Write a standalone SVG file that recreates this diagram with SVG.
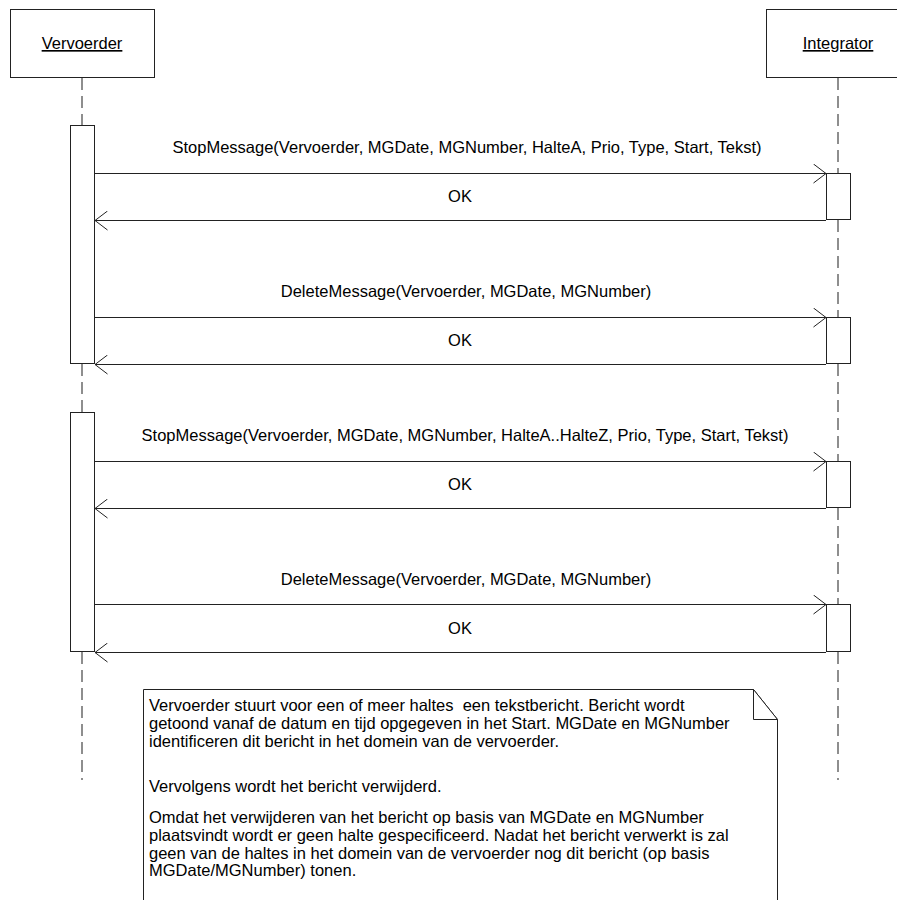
<svg xmlns="http://www.w3.org/2000/svg" width="897" height="900" viewBox="0 0 897 900">
<style>
text{font-family:"Liberation Sans",Arial,sans-serif;font-size:16.5px;fill:#000}
.c{text-anchor:middle}
.box{fill:#fff;stroke:#222;stroke-width:1}
.life{stroke:#444;stroke-width:1.2;stroke-dasharray:12,6;fill:none}
.msg{stroke:#222;stroke-width:1;fill:none}
.head{stroke:#222;stroke-width:1;fill:none}
</style>
<defs>
<marker id="open" viewBox="0 0 14 20" refX="13" refY="10" markerWidth="14" markerHeight="20" markerUnits="userSpaceOnUse" orient="auto">
<path d="M0.5,0.5 L13,10 L0.5,19.5" fill="none" stroke="#222" stroke-width="1"/>
</marker>
</defs>
<rect width="897" height="900" fill="#fff"/>
<g id="lifelines">
<line class="life" x1="82" y1="78" x2="82" y2="125"/>
<line class="life" x1="82" y1="364" x2="82" y2="412"/>
<line class="life" x1="82" y1="652" x2="82" y2="780"/>
<line class="life" x1="838" y1="78" x2="838" y2="173"/>
<line class="life" x1="838" y1="220" x2="838" y2="317"/>
<line class="life" x1="838" y1="364" x2="838" y2="461"/>
<line class="life" x1="838" y1="508" x2="838" y2="604"/>
<line class="life" x1="838" y1="652" x2="838" y2="780"/>
</g>
<g id="vervoerder">
<rect class="box" x="10.5" y="9.5" width="144" height="68"/>
<text class="c" x="82" y="49" text-decoration="underline">Vervoerder</text>
</g>
<g id="integrator">
<rect class="box" x="766.5" y="9.5" width="140" height="68"/>
<text class="c" x="838" y="49" text-decoration="underline">Integrator</text>
</g>
<g id="activations">
<rect class="box" x="70.5" y="125.5" width="24" height="238"/>
<rect class="box" x="70.5" y="412.5" width="24" height="239"/>
<rect class="box" x="826.5" y="173.5" width="24" height="46"/>
<rect class="box" x="826.5" y="317.5" width="24" height="46"/>
<rect class="box" x="826.5" y="461.5" width="24" height="46"/>
<rect class="box" x="826.5" y="604.5" width="24" height="47"/>
</g>
<g id="connectors">
<line class="msg" x1="95" y1="173.5" x2="826" y2="173.5" marker-end="url(#open)"/>
<line class="msg" x1="826" y1="220.5" x2="95" y2="220.5" marker-end="url(#open)"/>
<line class="msg" x1="95" y1="317.5" x2="826" y2="317.5" marker-end="url(#open)"/>
<line class="msg" x1="826" y1="364.5" x2="95" y2="364.5" marker-end="url(#open)"/>
<line class="msg" x1="95" y1="461.5" x2="826" y2="461.5" marker-end="url(#open)"/>
<line class="msg" x1="826" y1="508.5" x2="95" y2="508.5" marker-end="url(#open)"/>
<line class="msg" x1="95" y1="604.5" x2="826" y2="604.5" marker-end="url(#open)"/>
<line class="msg" x1="826" y1="652.5" x2="95" y2="652.5" marker-end="url(#open)"/>
</g>
<g id="labels">
<text class="c" x="467" y="153">StopMessage(Vervoerder, MGDate, MGNumber, HalteA, Prio, Type, Start, Tekst)</text>
<text class="c" x="460" y="202">OK</text>
<text class="c" x="466" y="297">DeleteMessage(Vervoerder, MGDate, MGNumber)</text>
<text class="c" x="460" y="346">OK</text>
<text class="c" x="465" y="441">StopMessage(Vervoerder, MGDate, MGNumber, HalteA..HalteZ, Prio, Type, Start, Tekst)</text>
<text class="c" x="460" y="490">OK</text>
<text class="c" x="466" y="585">DeleteMessage(Vervoerder, MGDate, MGNumber)</text>
<text class="c" x="460" y="634">OK</text>
</g>
<g id="note">
<path class="box" d="M143.5,920 L143.5,689.5 L753.5,689.5 L777.5,719.5 L777.5,920"/>
<path class="box" d="M753.5,689.5 L753.5,719.5 L777.5,719.5 Z"/>
<text x="149" y="711" xml:space="preserve">Vervoerder stuurt voor een of meer haltes  een tekstbericht. Bericht wordt</text>
<text x="149" y="729.2">getoond vanaf de datum en tijd opgegeven in het Start. MGDate en MGNumber</text>
<text x="149" y="747.4">identificeren dit bericht in het domein van de vervoerder.</text>
<text x="149" y="792">Vervolgens wordt het bericht verwijderd.</text>
<text x="149" y="823">Omdat het verwijderen van het bericht op basis van MGDate en MGNumber</text>
<text x="149" y="841">plaatsvindt wordt er geen halte gespecificeerd. Nadat het bericht verwerkt is zal</text>
<text x="149" y="858.5">geen van de haltes in het domein van de vervoerder nog dit bericht (op basis</text>
<text x="149" y="876">MGDate/MGNumber) tonen.</text>
</g>
</svg>
